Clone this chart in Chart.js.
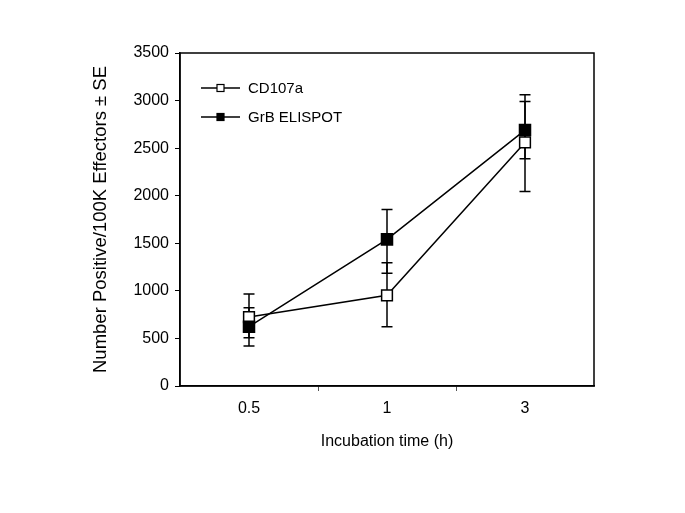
<!DOCTYPE html>
<html>
<head>
<meta charset="utf-8">
<script src="https://cdn.jsdelivr.net/npm/chart.js@4"></script>
<style>
  html, body { margin: 0; padding: 0; background: #fff; }
  #wrap { width: 685px; height: 513px; }
</style>
</head>
<body>
<div id="wrap"><canvas id="mycanvas"></canvas></div>
<script>
// values
var times = ['0.5', '1', '3'];
var cd107a = [725, 953, 2560];
var cd107aLow = [508, 623, 2045];
var cd107aHigh = [967, 1295, 3060];
var grb = [623, 1541, 2690];
var grbLow = [421, 1184, 2388];
var grbHigh = [823, 1856, 2990];
var yTicks = [0, 500, 1000, 1500, 2000, 2500, 3000, 3500];

var FONT = 'Liberation Sans, Arial, sans-serif';

// whiskers for the SE, drawn under the markers
var errorBars = {
	id: 'errorBars',
	beforeDatasetsDraw: function(chart) {
		var ctx = chart.ctx;
		var x = chart.scales.x, y = chart.scales.y;
		var sets = [[cd107aLow, cd107aHigh], [grbLow, grbHigh]];
		ctx.save();
		ctx.strokeStyle = '#000';
		ctx.lineWidth = 1.5;
		sets.forEach(function(s) {
			for (var i = 0; i < times.length; i++) {
				var px = x.getPixelForValue(i);
				var lo = y.getPixelForValue(s[0][i]);
				var hi = y.getPixelForValue(s[1][i]);
				ctx.beginPath();
				ctx.moveTo(px, lo); ctx.lineTo(px, hi);
				ctx.moveTo(px - 5.5, lo); ctx.lineTo(px + 5.5, lo);
				ctx.moveTo(px - 5.5, hi); ctx.lineTo(px + 5.5, hi);
				ctx.stroke();
			}
		});
		ctx.restore();
	}
};

// closed frame + legend inside the plot
var frameAndLegend = {
	id: 'frameAndLegend',
	afterDraw: function(chart) {
		var ctx = chart.ctx;
		var a = chart.chartArea;
		ctx.save();
		ctx.strokeStyle = '#000';
		ctx.lineWidth = 1.5;
		ctx.strokeRect(a.left, a.top, a.right - a.left, a.bottom - a.top);

		var rows = [
			{ label: 'CD107a', fill: '#fff', y: 88 },
			{ label: 'GrB ELISPOT', fill: '#000', y: 117 }
		];
		rows.forEach(function(r) {
			ctx.beginPath();
			ctx.lineWidth = 1.5;
			ctx.moveTo(a.left + 21, r.y);
			ctx.lineTo(a.left + 60, r.y);
			ctx.stroke();
			ctx.fillStyle = r.fill;
			ctx.fillRect(a.left + 37, r.y - 3.5, 7, 7);
			ctx.lineWidth = 1.2;
			ctx.strokeRect(a.left + 37, r.y - 3.5, 7, 7);
			ctx.fillStyle = '#000';
			ctx.font = '15px ' + FONT;
			ctx.textAlign = 'left';
			ctx.textBaseline = 'middle';
			ctx.fillText(r.label, a.left + 68, r.y + 1);
		});
		ctx.restore();
	}
};

var chartdata = {
	labels: times,
	datasets: [
		{
			label: 'CD107a',
			data: cd107a,
			borderColor: '#000',
			borderWidth: 1.5,
			backgroundColor: '#fff',
			pointStyle: 'rect',
			pointRadius: 7.6,
			pointBorderWidth: 1.5,
			pointBackgroundColor: '#fff',
			pointBorderColor: '#000',
			tension: 0,
			order: 1
		},
		{
			label: 'GrB ELISPOT',
			data: grb,
			borderColor: '#000',
			borderWidth: 1.5,
			backgroundColor: '#000',
			pointStyle: 'rect',
			pointRadius: 7.8,
			pointBorderWidth: 1.5,
			pointBackgroundColor: '#000',
			pointBorderColor: '#000',
			tension: 0,
			order: 0
		}
	]
};

var ctx = document.getElementById('mycanvas');

var lineGraph = new Chart(ctx, {
	type: 'line',
	data: chartdata,
	plugins: [errorBars, frameAndLegend],
	options: {
		responsive: true,
		maintainAspectRatio: false,
		animation: false,
		layout: { padding: { left: 90, top: 53, right: 91, bottom: 60 } },
		plugins: {
			legend: { display: false },
			tooltip: { enabled: false }
		},
		scales: {
			x: {
				offset: true,
				grid: {
					offset: true,
					drawOnChartArea: false,
					tickLength: 5,
					lineWidth: 1,
					// only the inner tick marks between categories
					color: function(c) {
						if (c.index === undefined || c.index === 0 || c.index >= times.length) return 'rgba(0,0,0,0)';
						return '#555';
					}
				},
				border: { color: '#000', width: 1.5 },
				ticks: { color: '#000', font: { family: FONT, size: 16 }, padding: 8, maxRotation: 0 },
				title: { display: true, text: 'Incubation time (h)', color: '#000', font: { family: FONT, size: 16 }, padding: { top: 0, bottom: 2 } },
				afterFit: function(scale) { scale.height = 67; }
			},
			y: {
				min: 0,
				max: 3500,
				afterBuildTicks: function(scale) {
					scale.ticks = yTicks.map(function(v) { return { value: v }; });
				},
				grid: { drawOnChartArea: false, tickLength: 5, color: '#000', lineWidth: 1 },
				border: { color: '#000', width: 1.5 },
				ticks: {
					color: '#000',
					font: { family: FONT, size: 16 },
					padding: 6,
					callback: function(v) { return String(v); }
				},
				title: { display: true, text: 'Number Positive/100K Effectors ± SE', color: '#000', font: { family: FONT, size: 18.5 }, padding: { top: 0, bottom: 0 } },
				afterFit: function(scale) { scale.width = 90; }
			}
		}
	}
});
</script>
</body>
</html>
